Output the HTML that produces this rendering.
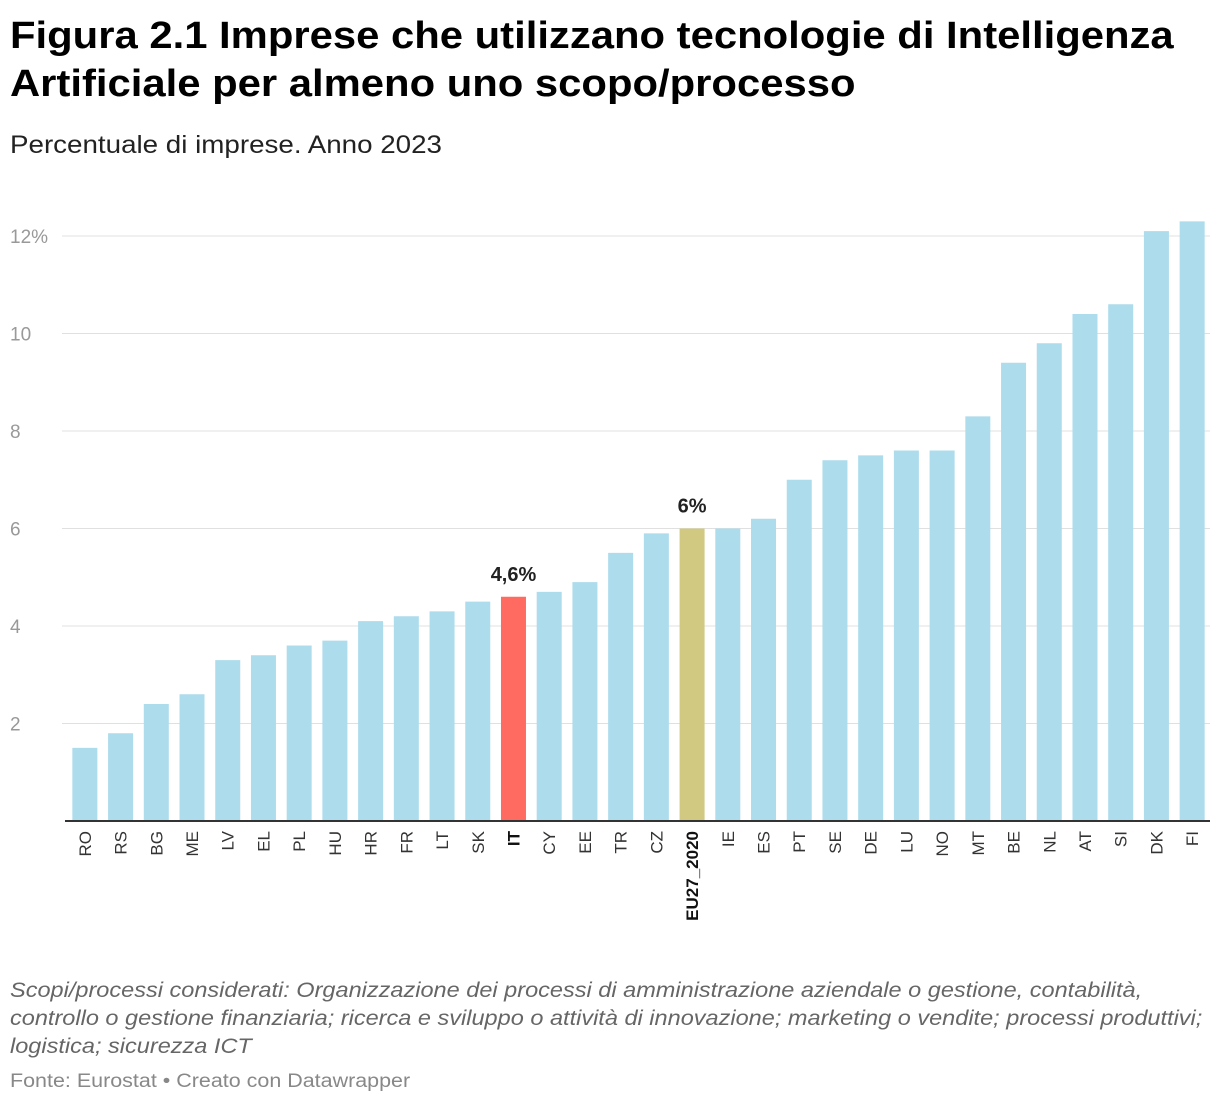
<!DOCTYPE html>
<html><head><meta charset="utf-8">
<style>
body{margin:0;background:#fff;font-family:"Liberation Sans",sans-serif;}
#wrap{position:relative;width:1220px;height:1108px;overflow:hidden;}
h1{position:absolute;left:10px;top:12px;margin:0;font-size:38px;line-height:48px;font-weight:bold;color:#000;transform:scaleX(1.10);transform-origin:left top;white-space:nowrap;}
.sub{position:absolute;left:10px;top:131px;font-size:25px;color:#222;transform:scaleX(1.11);transform-origin:left top;white-space:nowrap;}
.note{position:absolute;left:10px;top:977px;font-size:21px;line-height:28px;font-style:italic;color:#666;transform:scaleX(1.12);transform-origin:left top;white-space:nowrap;}
.src{position:absolute;left:10px;top:1071px;font-size:19px;color:#888;transform:scaleX(1.13);transform-origin:left top;white-space:nowrap;}
svg{position:absolute;left:0;top:0;}
</style></head><body>
<div id="wrap">
<h1>Figura 2.1 Imprese che utilizzano tecnologie di Intelligenza<br>Artificiale per almeno uno scopo/processo</h1>
<div class="sub">Percentuale di imprese. Anno 2023</div>
<svg id="chart" width="1220" height="1108"></svg>
<div class="note">Scopi/processi considerati: Organizzazione dei processi di amministrazione aziendale o gestione, contabilità,<br>controllo o gestione finanziaria; ricerca e sviluppo o attività di innovazione; marketing o vendite; processi produttivi;<br>logistica; sicurezza ICT</div>
<div class="src">Fonte: Eurostat • Creato con Datawrapper</div>
</div>
<script>
const categories=["RO","RS","BG","ME","LV","EL","PL","HU","HR","FR","LT","SK","IT","CY","EE","TR","CZ","EU27_2020","IE","ES","PT","SE","DE","LU","NO","MT","BE","NL","AT","SI","DK","FI"];
const values=[1.5,1.8,2.4,2.6,3.3,3.4,3.6,3.7,4.1,4.2,4.3,4.5,4.6,4.7,4.9,5.5,5.9,6.0,6.0,6.2,7.0,7.4,7.5,7.6,7.6,8.3,9.4,9.8,10.4,10.6,12.1,12.3];
const yTicks=[2,4,6,8,10,12];
const yTickLabels=["2","4","6","8","10","12%"];
const highlights={"IT":{color:"#ff6b61",label:"4,6%"},"EU27_2020":{color:"#d1c982",label:"6%"}};
const NS="http://www.w3.org/2000/svg";
const svg=document.getElementById("chart");
const x0=67,x1=1210,yBase=821,pxPerUnit=48.75;
const band=(x1-x0)/categories.length,bw=25;
const y=v=>yBase-v*pxPerUnit;
const xc=i=>x0+band*(i+0.5);
function el(t,a){const e=document.createElementNS(NS,t);for(const k in a)e.setAttribute(k,a[k]);svg.appendChild(e);return e;}
yTicks.forEach((t,i)=>{
 const g=el("line",{x1:62,x2:1210,y1:y(t),y2:y(t),stroke:"#e0e0e0","stroke-width":1});
 
 
 const tx=el("text",{x:10,y:y(t)+7,"font-size":19,fill:"#999"});
 tx.textContent=yTickLabels[i];
 
 
});
categories.forEach((c,i)=>{
 const v=values[i],h=highlights[c];
 const r=el("rect",{x:xc(i)-bw/2,y:y(v),width:bw,height:v*pxPerUnit,fill:h?h.color:"#addcec"});
 
 
 const lx=xc(i)+6,ly=831;
 const t=el("text",{x:lx,y:ly,"font-size":17,fill:h?"#111":"#333","font-weight":h?"bold":"normal","text-anchor":"end",transform:`rotate(-90 ${lx} ${ly})`});
 t.textContent=c;
 
 
 if(h){
  const vl=el("text",{x:xc(i),y:y(v)-16,"font-size":20,"font-weight":"bold",fill:"#222","text-anchor":"middle"});
  vl.textContent=h.label;
  
  
 }
});
const base=el("line",{x1:65,x2:1210,y1:yBase,y2:yBase,stroke:"#333","stroke-width":2});


</script>
</body></html>
